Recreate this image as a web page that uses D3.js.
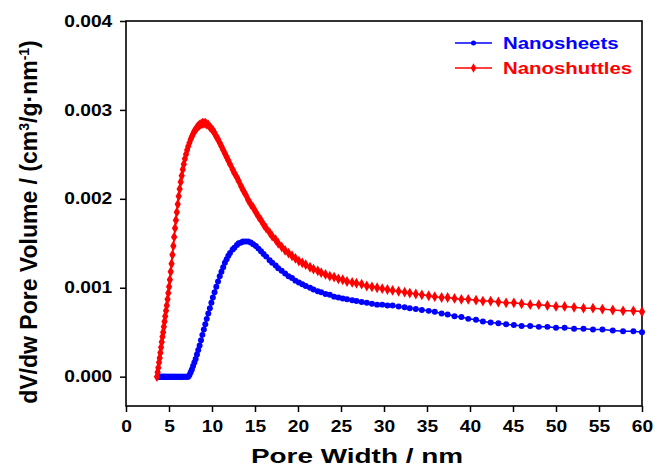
<!DOCTYPE html>
<html>
<head>
<meta charset="utf-8">
<script src="https://cdn.jsdelivr.net/npm/d3@7"></script>
<style>
  body { margin: 0; background: #fff; }
  svg { display: block; font-family: "Liberation Sans", Arial, sans-serif; font-weight: bold; }
</style>
</head>
<body>
<svg id="chart" width="657" height="470"></svg>
<script>
// pore width grid (nm)
const poreWidth = [3.6, 3.68, 3.76, 3.84, 3.92, 4.0, 4.08, 4.16, 4.24, 4.32, 4.4, 4.48, 4.56, 4.65, 4.74, 4.83, 4.92, 5.01, 5.1, 5.2,
  5.3, 5.4, 5.5, 5.6, 5.7, 5.8, 5.91, 6.02, 6.13, 6.24, 6.36, 6.48, 6.6, 6.72, 6.85, 6.98, 7.11, 7.24, 7.38, 7.52,
  7.66, 7.8, 7.95, 8.1, 8.25, 8.4, 8.56, 8.72, 8.88, 9.05, 9.22, 9.39, 9.57, 9.75, 9.93, 10.1, 10.3, 10.5, 10.7, 10.9,
  11.1, 11.3, 11.5, 11.7, 11.9, 12.1, 12.4, 12.6, 12.9, 13.1, 13.4, 13.6, 13.9, 14.2, 14.5, 14.8, 15.1, 15.4, 15.7, 16.0,
  16.3, 16.7, 17.0, 17.4, 17.7, 18.1, 18.5, 18.9, 19.3, 19.7, 20.1, 20.5, 20.9, 21.4, 21.8, 22.3, 22.7, 23.2, 23.7, 24.2,
  24.7, 25.2, 25.7, 26.3, 26.8, 27.4, 28.0, 28.6, 29.2, 29.8, 30.4, 31.0, 31.7, 32.4, 33.0, 33.7, 34.4, 35.2, 35.9, 36.7,
  37.4, 38.2, 39.0, 39.8, 40.7, 41.5, 42.4, 43.3, 44.2, 45.1, 46.0, 47.0, 48.0, 49.0, 50.0, 51.0, 52.1, 53.2, 54.3, 55.4,
  56.6, 57.8, 59.0, 60.0];

const nanosheets = [null, null, 0, 0, 0, 0, 0, 0, 0, 0, 0, 0, 0, 0, 0, 0, 0, 0, 0, 0,
  0, 0, 0, 0, 0, 0, 0, 0, 0, 0, 0, 0, 0, 0, 0, 0, 0, 0, 0.00002, 0.00005,
  0.00008, 0.00012, 0.00016, 0.0002, 0.00025, 0.0003, 0.00035, 0.00041, 0.00047, 0.00053, 0.00059, 0.00065, 0.00071, 0.00077, 0.00083, 0.00089, 0.00095, 0.00101, 0.00107, 0.00113,
  0.00118, 0.00123, 0.00128, 0.00132, 0.00136, 0.00139, 0.00143, 0.00145, 0.00148, 0.0015, 0.00151, 0.00152, 0.00152, 0.00152, 0.00151, 0.00149, 0.00147, 0.00144, 0.00141, 0.00138,
  0.00135, 0.00131, 0.00128, 0.00125, 0.00122, 0.00119, 0.00116, 0.00113, 0.00111, 0.00108, 0.00106, 0.00104, 0.00102, 0.001, 0.00098, 0.00096, 0.00095, 0.00093, 0.00092, 0.0009,
  0.00089, 0.00088, 0.00087, 0.00086, 0.00085, 0.00084, 0.00083, 0.00082, 0.00081, 0.00081, 0.0008, 0.0008, 0.00079, 0.00078, 0.00077, 0.00076, 0.00075, 0.00074, 0.00073, 0.00071,
  0.0007, 0.00068, 0.00067, 0.00065, 0.00064, 0.00062, 0.00061, 0.0006, 0.00059, 0.00058, 0.00057, 0.00057, 0.00056, 0.00056, 0.00055, 0.00055, 0.00054, 0.00054, 0.00053, 0.00053,
  0.00052, 0.00051, 0.00051, 0.0005];

const nanoshuttles = [0, 0.00005, 0.0001, 0.00016, 0.00021, 0.00027, 0.00033, 0.00039, 0.00045, 0.0005, 0.00056, 0.00062, 0.00068, 0.00074, 0.0008, 0.00087, 0.00094, 0.00101, 0.00109, 0.00118,
  0.00127, 0.00137, 0.00147, 0.00157, 0.00167, 0.00176, 0.00185, 0.00194, 0.00203, 0.00211, 0.00219, 0.00226, 0.00233, 0.00239, 0.00245, 0.0025, 0.00255, 0.00259, 0.00263, 0.00267,
  0.0027, 0.00273, 0.00276, 0.00278, 0.0028, 0.00282, 0.00283, 0.00284, 0.00285, 0.00285, 0.00285, 0.00284, 0.00283, 0.00281, 0.00279, 0.00277, 0.00274, 0.0027, 0.00267, 0.00263,
  0.00259, 0.00255, 0.00251, 0.00247, 0.00243, 0.00239, 0.00233, 0.00229, 0.00224, 0.0022, 0.00214, 0.0021, 0.00205, 0.00199, 0.00194, 0.0019, 0.00185, 0.0018, 0.00176, 0.00171,
  0.00167, 0.00162, 0.00158, 0.00154, 0.0015, 0.00146, 0.00142, 0.00139, 0.00136, 0.00133, 0.0013, 0.00128, 0.00126, 0.00123, 0.00121, 0.00119, 0.00117, 0.00115, 0.00113, 0.00112,
  0.0011, 0.00109, 0.00107, 0.00106, 0.00105, 0.00104, 0.00102, 0.00101, 0.001, 0.00099, 0.00098, 0.00097, 0.00096, 0.00095, 0.00094, 0.00093, 0.00092, 0.00091, 0.0009, 0.00089,
  0.00089, 0.00088, 0.00087, 0.00087, 0.00086, 0.00085, 0.00085, 0.00084, 0.00083, 0.00083, 0.00082, 0.00081, 0.00081, 0.0008, 0.00079, 0.00079, 0.00078, 0.00077, 0.00077, 0.00076,
  0.00075, 0.00074, 0.00074, 0.00073];

const xTicks = [0, 5, 10, 15, 20, 25, 30, 35, 40, 45, 50, 55, 60];
const yTicks = [0, 0.001, 0.002, 0.003, 0.004];

const svg = d3.select("#chart");
const plotLeft = 126, plotRight = 642, plotTop = 21, plotBottom = 406;

const x = d3.scaleLinear().domain([0, 60]).range([plotLeft, plotRight]);
const y = d3.scaleLinear().domain([-0.00033, 0.004]).range([plotBottom, plotTop]);

const stretch = "scale(1.2,1)";

// axes
const xAxis = svg.append("g")
    .attr("transform", `translate(0,${plotBottom})`)
    .call(d3.axisBottom(x).tickValues(xTicks).tickFormat(d3.format("d")).tickSize(6).tickSizeOuter(0));
xAxis.selectAll("text")
    .attr("y", 15)
    .attr("transform", stretch)
    .style("font-size", "16px")
    .style("font-weight", "bold")
    .style("font-family", "Liberation Sans, Arial, sans-serif")
    .attr("fill", "#000");

const yAxis = svg.append("g")
    .attr("transform", `translate(${plotLeft},0)`)
    .call(d3.axisLeft(y).tickValues(yTicks).tickFormat(d3.format(".3f")).tickSize(6).tickSizeOuter(0));
yAxis.selectAll("text")
    .attr("x", -11.5)
    .attr("transform", stretch)
    .style("font-size", "16px")
    .style("font-weight", "bold")
    .style("font-family", "Liberation Sans, Arial, sans-serif")
    .attr("fill", "#000");

svg.selectAll(".domain").remove();
svg.selectAll(".tick line").attr("stroke", "#000").attr("stroke-width", 1.5);

// frame
svg.append("rect")
    .attr("x", plotLeft).attr("y", plotTop)
    .attr("width", plotRight - plotLeft).attr("height", plotBottom - plotTop)
    .attr("fill", "none").attr("stroke", "#000").attr("stroke-width", 1.6);

// series
const series = [
  { name: "Nanosheets", values: nanosheets, color: "#0000ff", symbol: d3.symbolCircle, size: 28 },
  { name: "Nanoshuttles", values: nanoshuttles, color: "#ff0000", symbol: d3.symbolDiamond, size: 34 }
];

const line = d3.line()
    .defined(d => d.v !== null)
    .x(d => x(d.w))
    .y(d => y(d.v));

series.forEach(s => {
  const pts = poreWidth.map((w, i) => ({ w: w, v: s.values[i] }));
  const g = svg.append("g");
  g.append("path")
      .datum(pts)
      .attr("d", line)
      .attr("fill", "none")
      .attr("stroke", s.color)
      .attr("stroke-width", 1.5);
  g.selectAll("path.pt")
      .data(pts.filter(d => d.v !== null))
      .join("path")
        .attr("class", "pt")
        .attr("transform", d => `translate(${x(d.w)},${y(d.v)})`)
        .attr("d", d3.symbol(s.symbol, s.size))
        .attr("fill", s.color);
});

// legend
const legend = svg.append("g");
series.forEach((s, i) => {
  const ly = 43 + i * 25;
  legend.append("line")
      .attr("x1", 455).attr("x2", 492).attr("y1", ly).attr("y2", ly)
      .attr("stroke", s.color).attr("stroke-width", 1.4);
  legend.append("path")
      .attr("transform", `translate(473.5,${ly})`)
      .attr("d", d3.symbol(s.symbol, s.size - 8))
      .attr("fill", s.color);
  legend.append("text")
      .attr("transform", `translate(503,${ly + 6}) ${stretch}`)
      .attr("fill", s.color)
      .style("font-size", "17px")
      .text(s.name);
});

// axis titles
svg.append("text")
    .attr("transform", `translate(357,463) scale(1.33,1)`)
    .attr("text-anchor", "middle")
    .style("font-size", "21px")
    .text("Pore Width / nm");

const yTitle = svg.append("text")
    .attr("transform", `translate(37,222) rotate(-90)`)
    .attr("text-anchor", "middle")
    .style("font-size", "23px");
yTitle.append("tspan").text("dV/dw Pore Volume / (cm");
yTitle.append("tspan").attr("baseline-shift", "super").style("font-size", "14px").text("3");
yTitle.append("tspan").text("/g\u00b7nm");
yTitle.append("tspan").attr("baseline-shift", "super").style("font-size", "14px").text("-1");
yTitle.append("tspan").text(")");
</script>
</body>
</html>
